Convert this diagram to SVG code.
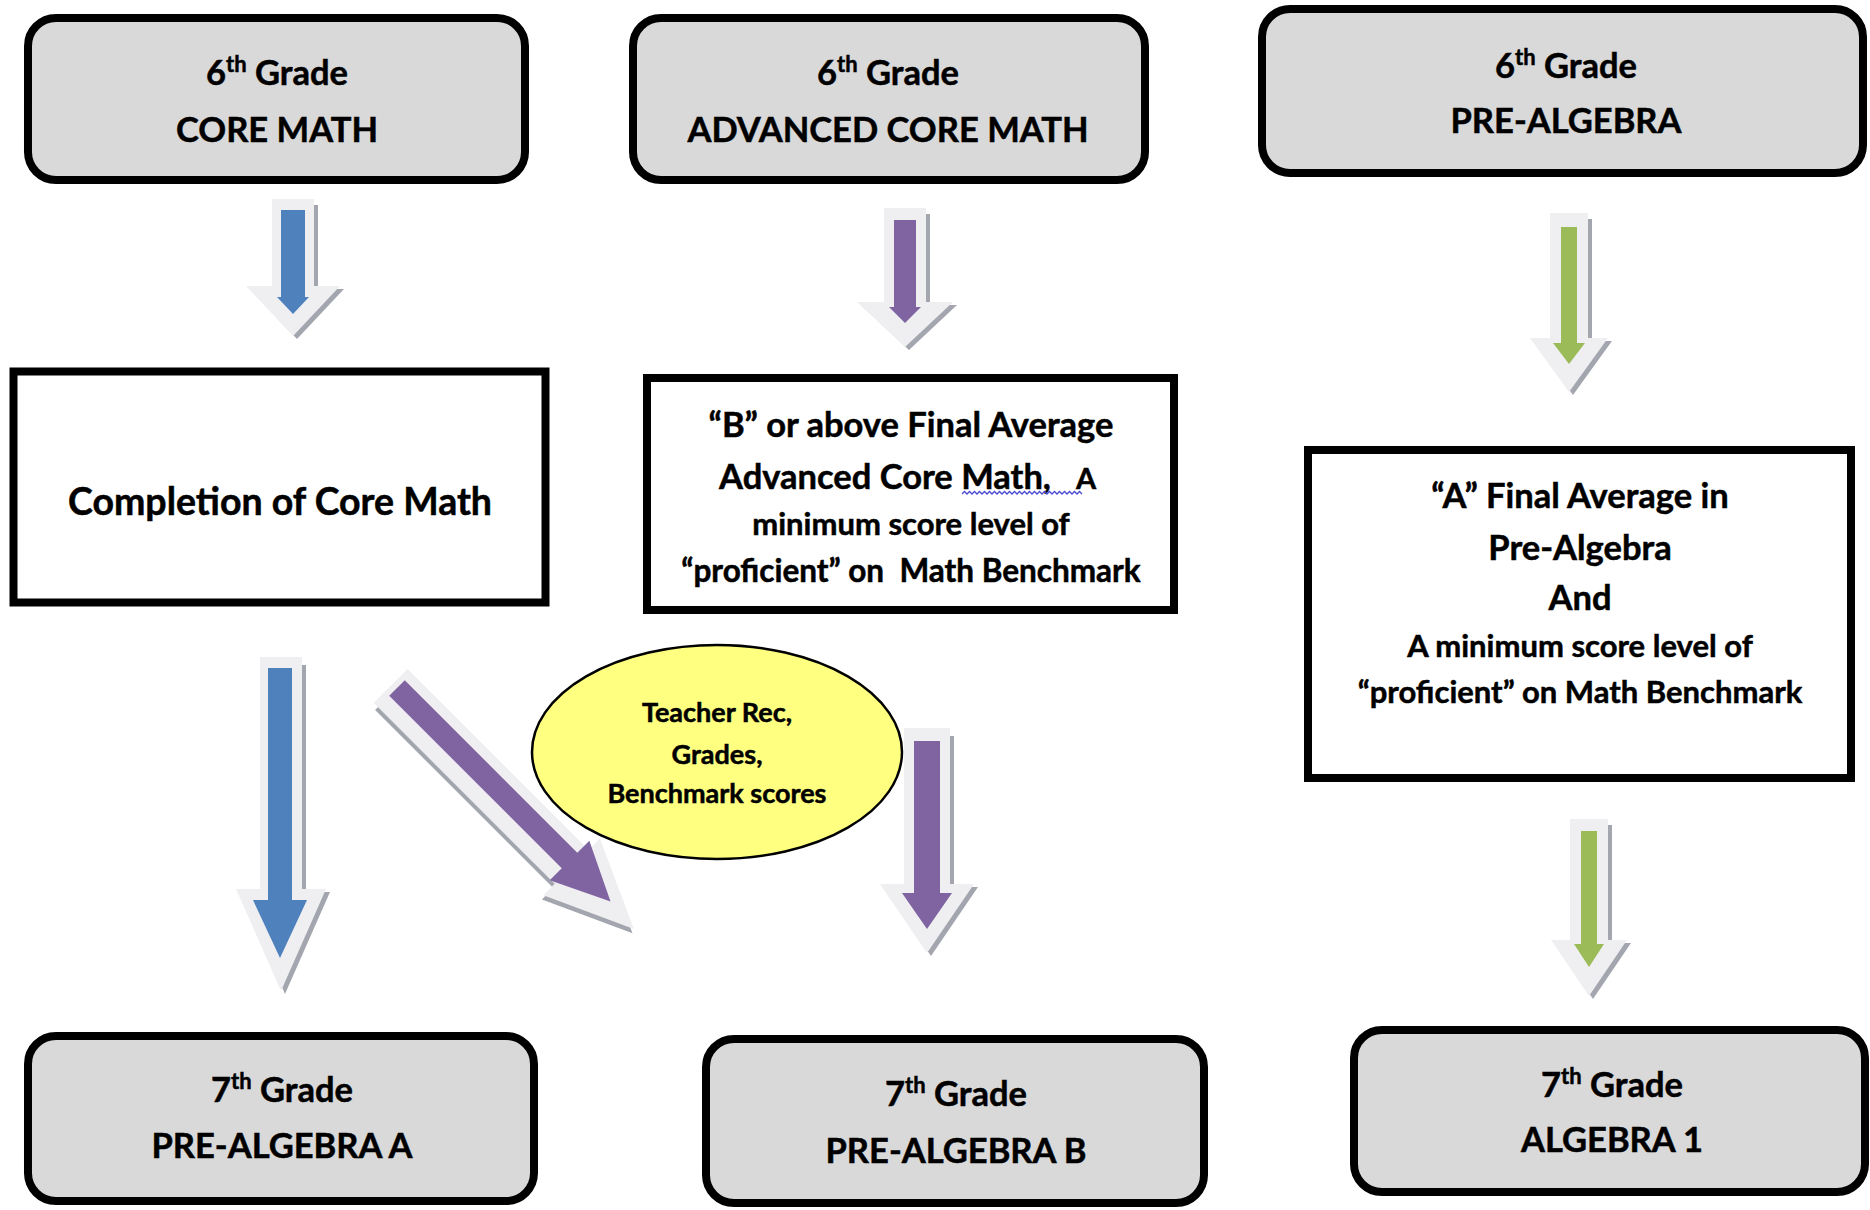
<svg xmlns="http://www.w3.org/2000/svg" width="1870" height="1210" viewBox="0 0 1870 1210">
  <style>
    text { font-family: Lato, "Open Sans", "Liberation Sans", sans-serif; font-weight: 700; fill: #000; stroke: #000; stroke-width: 0.5px; text-anchor: middle; }
    .big { font-size: 34.5px; }
    .med { font-size: 31px; }
    .sup { font-size: 22px; }
    .grade { fill: #d9d9d9; stroke: #000; stroke-width: 8; }
    .req { fill: #fff; stroke: #000; stroke-width: 8; }
    .outer { fill: #efeff2; }
    .shadow { fill: #a3a6ae; }
    .blue { fill: #4f81bd; }
    .purple { fill: #8064a2; }
    .green { fill: #9bbb59; }
  </style>
  <rect width="1870" height="1210" fill="#fff"/>

  <g id="connectors">
    <g id="arrow-core-top">
      <polygon class="shadow" points="276,205 318,205 318,289 344,289 297,339 250,289 276,289"/>
      <polygon class="outer" points="272,199 314,199 314,286 340,286 293,336 246,286 272,286"/>
      <polygon class="blue" points="281,210 305,210 305,297 309,297 293,314 277,297 281,297"/>
    </g>
    <g id="arrow-adv-top">
      <polygon class="shadow" points="888,214 930,214 930,305 957,305 909,350 861,305 888,305"/>
      <polygon class="outer" points="884,208 926,208 926,302 953,302 905,347 857,302 884,302"/>
      <polygon class="purple" points="894,220 916,220 916,307 921,307 905,323 889,307 894,307"/>
    </g>
    <g id="arrow-pre-top">
      <polygon class="shadow" points="1554,219 1592,219 1592,341 1612,341 1573,395 1534,341 1554,341"/>
      <polygon class="outer" points="1550,213 1588,213 1588,338 1608,338 1569,392 1530,338 1550,338"/>
      <polygon class="green" points="1561,227 1577,227 1577,343 1585,343 1569,364 1553,343 1561,343"/>
    </g>
    <g id="arrow-core-bottom">
      <polygon class="shadow" points="264,665 306,665 306,892 330,892 285,994 240,892 264,892"/>
      <polygon class="outer" points="260,657 302,657 302,889 326,889 281,991 236,889 260,889"/>
      <polygon class="blue" points="268,668 292,668 292,900 307,900 280,958 253,900 268,900"/>
    </g>
    <g id="arrow-diagonal" transform="translate(397,688) rotate(-45)">
      <polygon class="shadow" points="-31,0 17,0 17,252 33,252 -7,340 -47,252 -31,252"/>
      <polygon class="outer" points="-27,-6 21,-6 21,250 37,250 -3,338 -43,250 -27,250"/>
      <polygon class="purple" points="-11,0 11,0 11,244 28,244 0,302 -28,244 -11,244"/>
    </g>
    <g id="arrow-adv-bottom">
      <polygon class="shadow" points="908,736 954,736 954,887 978,887 931,956 884,887 908,887"/>
      <polygon class="outer" points="904,728 950,728 950,884 974,884 927,953 880,884 904,884"/>
      <polygon class="purple" points="914,741 940,741 940,893 952,893 927,929 902,893 914,893"/>
    </g>
    <g id="arrow-pre-bottom">
      <polygon class="shadow" points="1574,825 1612,825 1612,943 1631,943 1593,999 1555,943 1574,943"/>
      <polygon class="outer" points="1570,819 1608,819 1608,940 1627,940 1589,996 1551,940 1570,940"/>
      <polygon class="green" points="1581,831 1597,831 1597,944 1604,944 1589,967 1574,944 1581,944"/>
    </g>
  </g>

  <g id="node-6-core">
    <rect class="grade" x="28" y="18" width="497" height="162" rx="28"/>
    <text class="big" x="277" y="85">6<tspan class="sup" dy="-13">th</tspan><tspan dy="13"> Grade</tspan></text>
    <text class="big" x="277" y="142">CORE MATH</text>
  </g>

  <g id="node-6-advanced">
    <rect class="grade" x="633" y="18" width="512" height="162" rx="28"/>
    <text class="big" x="888" y="85">6<tspan class="sup" dy="-13">th</tspan><tspan dy="13"> Grade</tspan></text>
    <text class="big" x="888" y="142">ADVANCED CORE MATH</text>
  </g>

  <g id="node-6-prealgebra">
    <rect class="grade" x="1262" y="9" width="601" height="164" rx="28"/>
    <text class="big" x="1566" y="78">6<tspan class="sup" dy="-13">th</tspan><tspan dy="13"> Grade</tspan></text>
    <text class="big" x="1566" y="133">PRE-ALGEBRA</text>
  </g>

  <g id="node-completion">
    <rect class="req" x="13.5" y="371.5" width="532" height="231" stroke-width="9"/>
    <text x="280" y="515" font-size="37.5">Completion of Core Math</text>
  </g>

  <g id="node-b-requirement">
    <rect class="req" x="647" y="378" width="527" height="232"/>
    <text class="big" x="911" y="437">“B” or above Final Average</text>
    <text class="big" x="885" y="489">Advanced Core Math,</text>
    <text x="1076" y="489" font-size="29" style="text-anchor:start">A</text>
    <path d="M962 494 l2.5 -2.5 l2.5 2.5 l2.5 -2.5 l2.5 2.5 l2.5 -2.5 l2.5 2.5 l2.5 -2.5 l2.5 2.5 l2.5 -2.5 l2.5 2.5 l2.5 -2.5 l2.5 2.5 l2.5 -2.5 l2.5 2.5 l2.5 -2.5 l2.5 2.5 l2.5 -2.5 l2.5 2.5 l2.5 -2.5 l2.5 2.5 l2.5 -2.5 l2.5 2.5 l2.5 -2.5 l2.5 2.5 l2.5 -2.5 l2.5 2.5 l2.5 -2.5 l2.5 2.5 l2.5 -2.5 l2.5 2.5 l2.5 -2.5 l2.5 2.5 l2.5 -2.5 l2.5 2.5 l2.5 -2.5 l2.5 2.5 l2.5 -2.5 l2.5 2.5 l2.5 -2.5 l2.5 2.5 l2.5 -2.5 l2.5 2.5 l2.5 -2.5 l2.5 2.5 l2.5 -2.5 l2.5 2.5 l2.5 -2.5 l2.5 2.5" fill="none" stroke="#4a4ad0" stroke-width="1.3"/>
    <text class="med" x="911" y="535">minimum score level of</text>
    <text x="911" y="582" font-size="31.5" style="white-space:pre">“proficient” on  Math Benchmark</text>
  </g>

  <g id="node-teacher-rec">
    <ellipse cx="717" cy="752" rx="185" ry="107" fill="#ffff80" stroke="#000" stroke-width="2.5"/>
    <text x="717" y="722" font-size="27">Teacher Rec,</text>
    <text x="717" y="764" font-size="27">Grades,</text>
    <text x="717" y="803" font-size="27">Benchmark scores</text>
  </g>

  <g id="node-a-requirement">
    <rect class="req" x="1308" y="450" width="543" height="328"/>
    <text class="big" x="1580" y="508">“A” Final Average in</text>
    <text class="big" x="1580" y="560">Pre-Algebra</text>
    <text class="big" x="1580" y="610">And</text>
    <text class="med" x="1580" y="657">A minimum score level of</text>
    <text class="med" x="1580" y="703">“proficient” on Math Benchmark</text>
  </g>

  <g id="node-7-prealgebra-a">
    <rect class="grade" x="28" y="1036" width="506" height="165" rx="28"/>
    <text class="big" x="282" y="1102">7<tspan class="sup" dy="-13">th</tspan><tspan dy="13"> Grade</tspan></text>
    <text class="big" x="282" y="1158">PRE-ALGEBRA A</text>
  </g>

  <g id="node-7-prealgebra-b">
    <rect class="grade" x="706" y="1039" width="498" height="164" rx="28"/>
    <text class="big" x="956" y="1106">7<tspan class="sup" dy="-13">th</tspan><tspan dy="13"> Grade</tspan></text>
    <text class="big" x="956" y="1163">PRE-ALGEBRA B</text>
  </g>

  <g id="node-7-algebra1">
    <rect class="grade" x="1354" y="1030" width="511" height="162" rx="28"/>
    <text class="big" x="1612" y="1097">7<tspan class="sup" dy="-13">th</tspan><tspan dy="13"> Grade</tspan></text>
    <text class="big" x="1612" y="1152">ALGEBRA 1</text>
  </g>
</svg>
